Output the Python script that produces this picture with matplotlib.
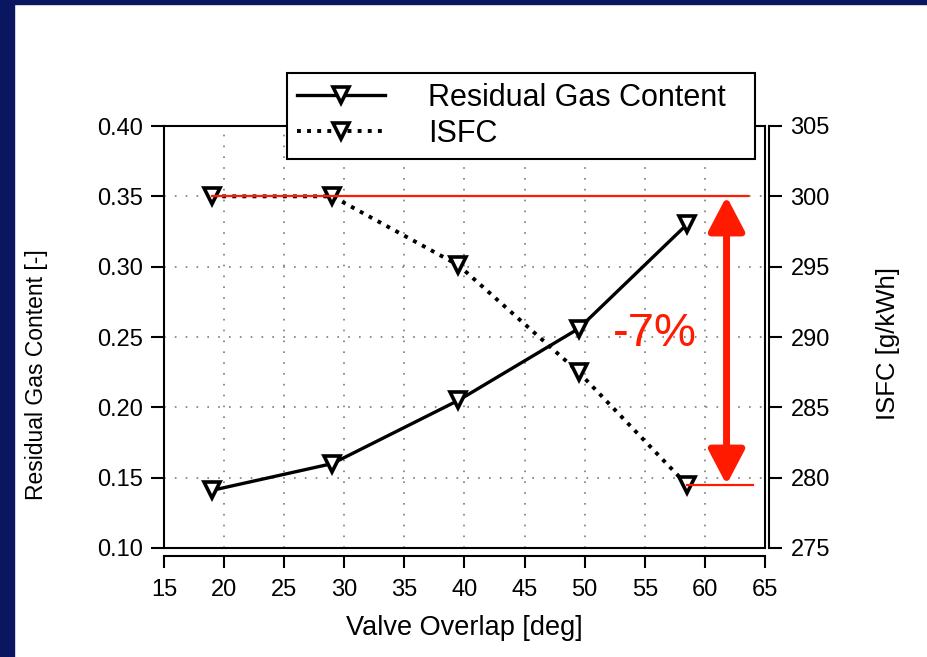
import numpy as np
import matplotlib
matplotlib.use("Agg")
import matplotlib.pyplot as plt
from matplotlib.patches import Rectangle

plt.rcParams['font.family'] = ['Liberation Sans', 'DejaVu Sans']

overlap = np.array([19, 29, 39.5, 49.5, 58.5])
residual_gas = np.array([0.141, 0.160, 0.205, 0.256, 0.330])
isfc = np.array([300.0, 300.0, 295.1, 287.5, 279.5])

x_ticks = np.arange(15, 66, 5)
y1_ticks = np.arange(0.10, 0.401, 0.05)
y2_ticks = np.arange(275, 306, 5)

ref_isfc = 300.0
arrow_x = 61.8
drop_label = '-7%'

navy = '#0b1660'
red = '#ff1a00'

fig = plt.figure(figsize=(9.28, 6.57), dpi=100)
fig.patch.set_facecolor('white')
# navy frame on left and top
fig.patches.append(Rectangle((0, 0), 14 / 928, 1, transform=fig.transFigure,
                             color=navy, zorder=-10))
fig.patches.append(Rectangle((0, 1 - 4 / 657), 1, 4 / 657, transform=fig.transFigure,
                             color=navy, zorder=-10))

ax1 = fig.add_axes([164 / 928, 109 / 657, 601 / 928, 422 / 657])
ax2 = ax1.twinx()

spine_lw = 1.5
tick_len = 9.3

# left axis: residual gas content
l1, = ax1.plot(overlap, residual_gas, color='black', lw=2.4, marker='v', ms=12,
               mfc='white', mec='black', mew=2.6, label='Residual Gas Content',
               zorder=3)
ax1.set_xlim(15, 65)
ax1.set_ylim(0.10, 0.40)
ax1.set_yticks(y1_ticks)
ax1.set_yticklabels([f'{v:.2f}' for v in y1_ticks])
ax1.set_xticks(x_ticks)
ax1.tick_params(axis='x', bottom=False, labelbottom=False)
ax1.tick_params(axis='y', direction='out', length=tick_len, width=spine_lw,
                labelsize=17, pad=6)
ax1.grid(True, color='#7a7a7a', lw=1.2, linestyle=(0, (1, 5.5)))
for s in ax1.spines.values():
    s.set_linewidth(spine_lw)
ax1.set_ylabel('Residual Gas Content [-]', fontsize=16.5)
ax1.yaxis.set_label_coords(-0.193, 0.41)

# right axis: ISFC, also carries the offset x axis
l2, = ax2.plot(overlap, isfc, color='black', lw=2.8, linestyle=(0, (1, 1.6)),
               marker='v', ms=12, mfc='white', mec='black', mew=2.6,
               label='ISFC', zorder=3)
ax2.set_ylim(275, 305)
ax2.set_yticks(y2_ticks)
ax2.tick_params(axis='y', direction='out', length=tick_len, width=spine_lw,
                labelsize=17, pad=6)
ax2.set_ylabel('ISFC [g/kWh]', fontsize=18.5)
ax2.yaxis.set_label_coords(1.185, 0.485)
ax2.spines['right'].set_position(('outward', 3))
ax2.spines['right'].set_linewidth(spine_lw)
ax2.spines['left'].set_visible(False)
ax2.spines['top'].set_visible(False)
ax2.xaxis.set_visible(True)
ax2.xaxis.tick_bottom()
ax2.spines['bottom'].set_visible(True)
ax2.spines['bottom'].set_position(('outward', 5.8))
ax2.spines['bottom'].set_linewidth(spine_lw)
ax2.set_xticks(x_ticks)
ax2.tick_params(axis='x', direction='out', length=8.6, width=spine_lw,
                labelsize=17, pad=8)
ax2.set_xlabel('Valve Overlap [deg]', fontsize=19.5, labelpad=10)

# red annotation: reference line, final line, arrow and label
ax2.plot([overlap[0], 63.6], [ref_isfc, ref_isfc], color=red, lw=1.6, zorder=4)
ax2.plot([overlap[-1], 64.0], [isfc[-1], isfc[-1]], color=red, lw=1.6, zorder=4)
ax2.annotate('', xy=(arrow_x, isfc[-1]), xytext=(arrow_x, ref_isfc),
             arrowprops=dict(arrowstyle='<|-|>,head_length=2.1,head_width=1.1',
                             color=red, lw=5, shrinkA=0, shrinkB=0),
             zorder=5)
ax2.text(55.8, 290.2, drop_label, color=red, fontsize=34, ha='center',
         va='center', zorder=5)

leg = ax2.legend(handles=[l1, l2], loc='upper left',
                 bbox_to_anchor=(287 / 928, 1 - 73 / 657, 468 / 928, 0),
                 bbox_transform=fig.transFigure, mode='expand',
                 fontsize=22, frameon=True, fancybox=False, framealpha=1,
                 edgecolor='black', borderpad=0.32, labelspacing=0.2,
                 handlelength=2.9, handletextpad=1.4, borderaxespad=0,
                 numpoints=1)
leg.get_frame().set_linewidth(1.5)
leg.set_zorder(10)

fig.savefig('out.png', dpi=100)
